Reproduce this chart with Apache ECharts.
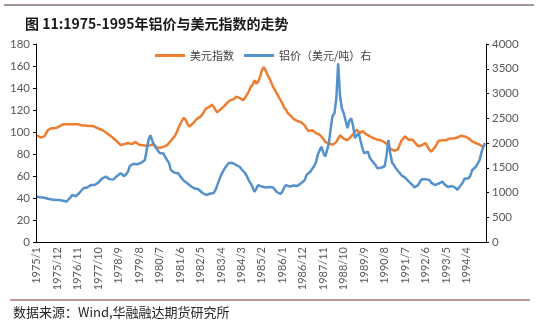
<!DOCTYPE html>
<html>
<head>
<meta charset="utf-8">
<script src="https://cdn.jsdelivr.net/npm/echarts@6/dist/echarts.min.js"></script>
<style>html,body{margin:0;padding:0;background:#fff;}#c{width:538px;height:324px;}</style>
</head>
<body>
<div id="c"></div>
<script>
// Monthly categories 1975/1 .. 1995/2
var startYear = 1975, monthCount = 242;
var categories = [];
for (var k = 0; k < monthCount; k++) {
  categories.push((startYear + Math.floor(k / 12)) + '/' + (k % 12 + 1));
}
// 美元指数 (left axis)
var usdIndex = [
  97, 96, 95, 95.5, 96, 99, 102, 103, 103.5, 104, 103.5, 104.5,
  105, 106, 107, 107.5, 107, 106.5, 107, 107.5, 107, 106.5, 107, 106.5,
  106, 106.5, 106, 105.5, 105.5, 105, 105.5, 104.5, 104, 103, 102.5, 102,
  101, 100, 98.5, 97.5, 96, 95, 93, 92, 90, 88, 87.5, 89,
  89.5, 90, 90.5, 89, 90, 91, 89.5, 88.5, 89, 88, 87, 87.5,
  87, 88, 87.5, 89, 86.5, 86, 85.5, 86, 86.5, 87, 88, 90,
  92, 94, 96, 99, 103, 107, 110, 113, 111, 107, 105, 106,
  108, 110, 112, 113, 114, 116, 119, 121.5, 120, 123, 125, 123,
  120, 118, 119.5, 121, 122, 124, 126, 127, 129, 128, 130, 132,
  133.5, 131, 130, 129, 130.5, 134, 137, 141, 143, 147, 144, 146,
  150, 156, 159, 156, 152, 149, 145, 141, 138, 135, 132, 129,
  126, 122, 120, 117, 116, 114, 112, 111, 110, 108.5, 109, 108,
  106, 103, 101, 100, 101.5, 100, 99, 98, 97.5, 96, 94, 91,
  90, 89.5, 89, 88.5, 89, 91, 94, 97, 96, 94, 93, 92.5,
  93, 96, 98, 100, 102, 101, 99, 101, 100, 98, 97, 96,
  95, 94.5, 94, 93, 92, 92.5, 91, 90.5, 91, 88, 85, 84,
  83, 82, 84, 88, 92, 94, 96, 95, 93, 92, 93, 91,
  89, 87, 86.5, 88, 89.5, 90, 87, 84, 82, 83, 86, 89,
  92, 93, 92.5, 91, 92.5, 93, 94, 93.5, 94, 93, 95, 96,
  96.5, 97, 96, 95, 94.5, 93, 91.5, 91, 90, 89, 88.5, 88,
  86.5, 88
];
// 铝价（美元/吨） (right axis)
var aluminium = [
  915, 915, 905, 905, 895, 885, 875, 870, 860, 845, 850, 860,
  850, 845, 835, 830, 820, 830, 900, 950, 940, 925, 960, 1000,
  1040, 1085, 1075, 1100, 1120, 1150, 1160, 1150, 1185, 1200, 1230, 1280,
  1300, 1320, 1300, 1270, 1250, 1260, 1300, 1330, 1370, 1390, 1360, 1330,
  1290, 1420, 1540, 1560, 1580, 1590, 1570, 1555, 1600, 1620, 1650, 1850,
  2060, 2160, 2050, 1960, 1900, 1860, 1800, 1840, 1790, 1720, 1650, 1600,
  1455, 1430, 1400, 1420, 1390, 1330, 1290, 1240, 1220, 1180, 1150, 1120,
  1100, 1080, 1050, 1060, 1020, 990, 970, 950, 960, 975, 980, 990,
  1050, 1150, 1250, 1350, 1420, 1490, 1540, 1590, 1620, 1600, 1570, 1560,
  1560, 1520, 1470, 1430, 1390, 1320, 1240, 1180, 1100, 1015, 1080, 1150,
  1130, 1120, 1110, 1100, 1120, 1110, 1125, 1100, 1060, 1010, 980, 970,
  1020, 1100, 1150, 1140, 1120, 1150, 1140, 1150, 1130, 1160, 1185, 1170,
  1250, 1355, 1370, 1420, 1455, 1530, 1600, 1760, 1850, 1925, 1810, 1725,
  1850, 1990, 2300, 2550, 2600, 2900, 3610, 2950, 2700, 2600, 2450, 2300,
  2450, 2500, 2350, 2100, 2150, 2200, 2050, 1900, 1790, 1800, 1825, 1700,
  1650, 1620, 1560, 1490, 1480, 1500, 1510, 1530, 1750, 2060, 1800, 1600,
  1555, 1490, 1450, 1400, 1350, 1320, 1300, 1260, 1220, 1180, 1150, 1100,
  1085, 1150, 1220, 1270, 1285, 1270, 1285, 1250, 1200, 1180, 1150, 1160,
  1180, 1200, 1220, 1170, 1140, 1110, 1105, 1130, 1150, 1100, 1050, 1080,
  1150, 1200, 1285, 1300, 1285, 1330, 1450, 1490, 1520, 1555, 1650, 1800,
  1925, 2000
];
var leftTicks = { min: 0, max: 180, interval: 20 };
var rightTicks = { min: 0, max: 4000, interval: 500 };
var seriesNames = ['美元指数', '铝价（美元/吨）右'];

var chart = echarts.init(document.getElementById('c'), null, { renderer: 'canvas' });
var numFont = 'Lato, "Liberation Sans", sans-serif';
var cjkFont = '"Noto Sans CJK SC", sans-serif';
function plain(v) { return String(v); }
chart.setOption({
  animation: false,
  backgroundColor: '#ffffff',
  title: {
    text: '图 11:1975-1995年铝价与美元指数的走势',
    left: 20, top: 12,
    textStyle: { fontFamily: cjkFont, fontSize: 14, fontWeight: 'bold', color: '#1a1a1a' }
  },
  legend: {
    left: 150, top: 45,
    itemWidth: 30, itemHeight: 3, itemGap: 10,
    icon: 'rect',
    textStyle: { fontFamily: cjkFont, fontSize: 11, color: '#404040' },
    data: seriesNames
  },
  grid: { left: 36, right: 52, top: 44, bottom: 82, containLabel: false },
  xAxis: {
    type: 'category',
    data: categories,
    boundaryGap: true,
    axisLine: { lineStyle: { color: '#000', width: 1 } },
    axisTick: { interval: 10, alignWithLabel: true, length: 4, lineStyle: { color: '#000' } },
    axisLabel: { interval: 10, rotate: 90, margin: 5, fontFamily: numFont, fontSize: 11, color: '#595959' },
    splitLine: { show: false }
  },
  yAxis: [
    {
      type: 'value', position: 'left',
      min: leftTicks.min, max: leftTicks.max, interval: leftTicks.interval,
      axisLine: { show: true, lineStyle: { color: '#000' } },
      axisTick: { show: true, length: 3, lineStyle: { color: '#000' } },
      axisLabel: { margin: 6, fontFamily: numFont, fontSize: 11.5, color: '#595959', formatter: plain },
      splitLine: { show: false }
    },
    {
      type: 'value', position: 'right',
      min: rightTicks.min, max: rightTicks.max, interval: rightTicks.interval,
      axisLine: { show: true, lineStyle: { color: '#000' } },
      axisTick: { show: true, length: 3, lineStyle: { color: '#000' } },
      axisLabel: { margin: 6, fontFamily: numFont, fontSize: 11.5, color: '#595959', formatter: plain },
      splitLine: { show: false }
    }
  ],
  series: [
    {
      name: seriesNames[0], type: 'line', yAxisIndex: 0, data: usdIndex,
      symbol: 'none', color: '#ED7D31',
      lineStyle: { width: 2.5, color: '#ED7D31' }, z: 2
    },
    {
      name: seriesNames[1], type: 'line', yAxisIndex: 1, data: aluminium,
      symbol: 'none', color: '#5591CB',
      lineStyle: { width: 2.5, color: '#5591CB' }, z: 3
    }
  ],
  graphic: [
    { type: 'line', shape: { x1: 4, y1: 5, x2: 534, y2: 5 }, style: { stroke: '#4a2a2e', lineWidth: 1.2 } },
    { type: 'line', shape: { x1: 10, y1: 300, x2: 530, y2: 300 }, style: { stroke: '#7a2e35', lineWidth: 1.2 } },
    { type: 'text', left: 13, top: 306, style: { text: '数据来源：Wind,华融融达期货研究所', font: '13px "Noto Sans CJK SC", sans-serif', fill: '#262626' } }
  ]
});
</script>
</body>
</html>
